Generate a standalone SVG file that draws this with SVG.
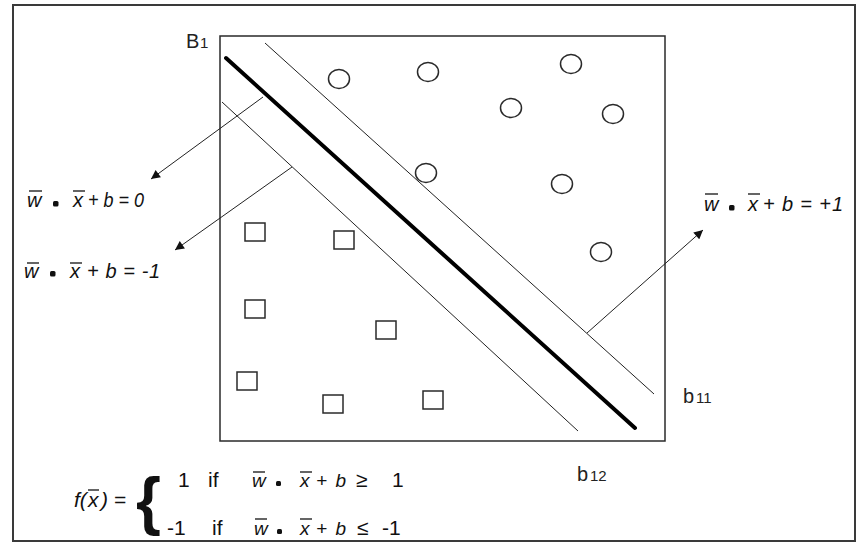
<svg xmlns="http://www.w3.org/2000/svg" width="860" height="550" viewBox="0 0 860 550">
<style>
.frame{fill:#fff;stroke:#3a3a3a;stroke-width:2}
.box{fill:none;stroke:#2a2a2a;stroke-width:1.5}
.pt{fill:none;stroke:#2a2a2a;stroke-width:1.5}
.thin{stroke:#222;stroke-width:1;fill:none}
.thick{stroke:#000;stroke-width:4;fill:none;stroke-linecap:round}
.arr{stroke:#222;stroke-width:1;fill:none}
.eq{font-family:"Liberation Sans",Arial,sans-serif;font-style:italic;font-size:20px;fill:#111}
.up{font-family:"Liberation Sans",Arial,sans-serif;font-size:21px;fill:#111}
.lab{font-family:"Liberation Sans",Arial,sans-serif;font-size:20px;fill:#222}
.sub{font-family:"Liberation Sans",Arial,sans-serif;font-size:15px;fill:#222}
.bar{stroke:#111;stroke-width:1.3}
.dot{fill:#111}
</style>
<defs>
<marker id="ah" viewBox="0 0 10 10" refX="10" refY="5" markerWidth="10" markerHeight="9" markerUnits="userSpaceOnUse" orient="auto">
<path d="M0,0 L10,5 L0,10 z" fill="#111"/>
</marker>
</defs>
<rect class="frame" x="13" y="5" width="842" height="536"/>
<g id="plot">
<rect class="box" x="220" y="36" width="445" height="405"/>
</g>
<g id="hyperplanes">
<line class="thin" x1="265" y1="43" x2="654" y2="394"/>
<line class="thick" x1="226" y1="58" x2="635" y2="428"/>
<line class="thin" x1="222" y1="102" x2="578" y2="431"/>
</g>
<g id="circles">
<ellipse class="pt" cx="339" cy="79" rx="10.5" ry="9.5"/>
<ellipse class="pt" cx="428" cy="72" rx="10.5" ry="9.5"/>
<ellipse class="pt" cx="571" cy="64" rx="10.5" ry="9.5"/>
<ellipse class="pt" cx="511" cy="108" rx="10.5" ry="9.5"/>
<ellipse class="pt" cx="613" cy="114" rx="10.5" ry="9.5"/>
<ellipse class="pt" cx="426" cy="173" rx="10.5" ry="9.5"/>
<ellipse class="pt" cx="562" cy="184" rx="10.5" ry="9.5"/>
<ellipse class="pt" cx="601" cy="252" rx="10.5" ry="9.5"/>
</g>
<g id="squares">
<rect class="pt" x="245" y="223" width="20" height="18"/>
<rect class="pt" x="334" y="231" width="20" height="18"/>
<rect class="pt" x="245" y="300" width="20" height="18"/>
<rect class="pt" x="376" y="321" width="20" height="18"/>
<rect class="pt" x="237" y="372" width="20" height="18"/>
<rect class="pt" x="323" y="395" width="20" height="18"/>
<rect class="pt" x="423" y="391" width="20" height="18"/>
</g>
<g id="connectors">
<line class="arr" x1="263" y1="97" x2="151" y2="179" marker-end="url(#ah)"/>
<line class="arr" x1="292" y1="167" x2="175" y2="250" marker-end="url(#ah)"/>
<line class="arr" x1="587" y1="333" x2="703" y2="230" marker-end="url(#ah)"/>
</g>
<g id="label-B1">
<text class="lab" x="186" y="48">B</text><text class="sub" x="200" y="48">1</text>
</g>
<g id="label-b11">
<text class="lab" x="683" y="403">b</text><text class="sub" x="696" y="403">11</text>
</g>
<g id="label-b12">
<text class="lab" x="577" y="481">b</text><text class="sub" x="590" y="481">12</text>
</g>
<g id="eq-zero">
<text class="eq" x="27" y="207">w</text>
<line class="bar" x1="29" y1="191" x2="42" y2="191"/>
<rect class="dot" x="53" y="201" width="5.5" height="5.5" rx="1.5"/>
<text class="eq" x="73" y="207">x</text>
<line class="bar" x1="73" y1="191" x2="85" y2="191"/>
<text class="eq" x="88" y="207" textLength="56" lengthAdjust="spacingAndGlyphs">+ b = 0</text>
</g>
<g id="eq-minus1">
<text class="eq" x="24" y="278">w</text>
<line class="bar" x1="27" y1="263" x2="39" y2="263"/>
<rect class="dot" x="50" y="271" width="5.5" height="5.5" rx="1.5"/>
<text class="eq" x="70" y="278">x</text>
<line class="bar" x1="70" y1="263" x2="82" y2="263"/>
<text class="eq" x="87" y="278" textLength="73" lengthAdjust="spacing">+ b = -1</text>
</g>
<g id="eq-plus1">
<text class="eq" x="704" y="211">w</text>
<line class="bar" x1="705" y1="194" x2="718" y2="194"/>
<rect class="dot" x="729" y="205" width="5.5" height="5.5" rx="1.5"/>
<text class="eq" x="748" y="211">x</text>
<line class="bar" x1="748" y1="194" x2="760" y2="194"/>
<text class="eq" x="763" y="211" textLength="80" lengthAdjust="spacing">+ b = +1</text>
</g>
<g id="decision-function">
<text class="eq" x="74" y="507" style="font-size:21px">f(</text>
<text class="eq" x="88" y="507" style="font-size:21px">x</text>
<line class="bar" x1="88" y1="490" x2="99" y2="490"/>
<text class="eq" x="101" y="507" style="font-size:21px">) =</text>
<text class="up" x="136" y="523" style="font-size:64px;font-weight:bold">{</text>
<text class="up" x="178" y="487">1</text>
<text class="up" x="208" y="487">if</text>
<text class="eq" x="252" y="487" style="font-size:19px">w</text>
<line class="bar" x1="253" y1="472" x2="265" y2="472"/>
<rect class="dot" x="276" y="481" width="5" height="5" rx="1.5"/>
<text class="eq" x="300" y="487" style="font-size:19px">x</text>
<line class="bar" x1="300" y1="472" x2="312" y2="472"/>
<text class="eq" x="316" y="487" style="font-size:19px" textLength="30" lengthAdjust="spacing">+ b</text>
<text class="up" x="356" y="487">≥</text>
<text class="up" x="392" y="487">1</text>
<text class="up" x="167" y="535">-1</text>
<text class="up" x="212" y="535">if</text>
<text class="eq" x="254" y="535" style="font-size:19px">w</text>
<line class="bar" x1="255" y1="519" x2="267" y2="519"/>
<rect class="dot" x="277" y="529" width="5" height="5" rx="1.5"/>
<text class="eq" x="300" y="535" style="font-size:19px">x</text>
<line class="bar" x1="300" y1="519" x2="312" y2="519"/>
<text class="eq" x="316" y="535" style="font-size:19px" textLength="30" lengthAdjust="spacing">+ b</text>
<text class="up" x="357" y="535">≤</text>
<text class="up" x="382" y="535">-1</text>
</g>
</svg>
